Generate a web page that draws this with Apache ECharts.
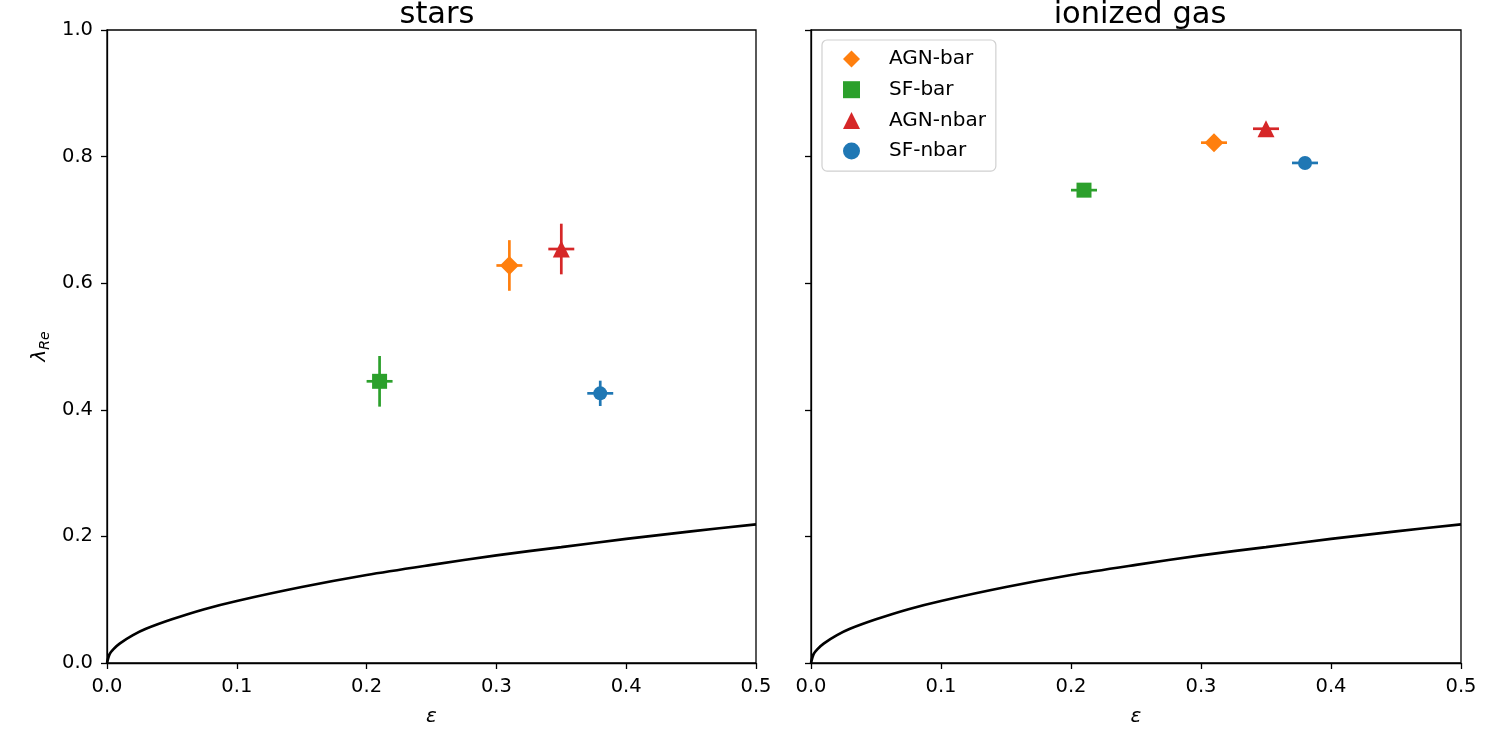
<!DOCTYPE html>
<html>
<head>
<meta charset="utf-8">
<script src="https://cdn.jsdelivr.net/npm/echarts@6/dist/echarts.min.js"></script>
<style>
  html, body { margin: 0; padding: 0; background: #fff; }
  #chart { width: 1500px; height: 750px; }
</style>
</head>
<body>
<div id="chart"></div>
<script>
// groups and their marker colours/shapes
const groups = ['AGN-bar', 'SF-bar', 'AGN-nbar', 'SF-nbar'];
const colors = ['#ff7f0e', '#2ca02c', '#d62728', '#1f77b4'];
const symbols = ['diamond', 'rect', 'triangle', 'circle'];
const symbolSizes = [19, 15, 17, 14];

// ellipticity and lambda_Re per group
const epsValues = [0.31, 0.21, 0.35, 0.38];
const epsErr = [0.01, 0.01, 0.01, 0.01];
const starLambda = [0.628, 0.445, 0.654, 0.426];
const starLambdaErr = [0.04, 0.04, 0.04, 0.02];
const gasLambda = [0.822, 0.747, 0.844, 0.790];
const gasLambdaErr = [0.003, 0.003, 0.003, 0.003];

// fast/slow rotator boundary
const curveEps = [0, 0.002, 0.005, 0.01, 0.02, 0.03, 0.05, 0.075, 0.1, 0.15, 0.2, 0.25, 0.3, 0.35, 0.4, 0.45, 0.5];
const curveLambda = [0, 0.014, 0.022, 0.031, 0.044, 0.054, 0.069, 0.085, 0.098, 0.12, 0.139, 0.155, 0.17, 0.183, 0.196, 0.208, 0.219];

const xTicks = [0, 0.1, 0.2, 0.3, 0.4, 0.5];
const yTicks = [0, 0.2, 0.4, 0.6, 0.8, 1.0];

const font = 'DejaVu Sans';
const chart = echarts.init(document.getElementById('chart'));

function xAxisFor(gridIndex) {
  return {
    gridIndex,
    type: 'value',
    min: xTicks[0],
    max: xTicks[xTicks.length - 1],
    interval: 0.1,
    name: 'ε',
    nameLocation: 'middle',
    nameGap: 44,
    nameTextStyle: { fontFamily: font, fontSize: 20, fontStyle: 'italic', color: '#000' },
    axisLine: { show: true, lineStyle: { color: '#000', width: 1.3 } },
    axisTick: { show: true, length: 6, lineStyle: { color: '#000', width: 1.3 } },
    axisLabel: { fontFamily: font, fontSize: 19.5, color: '#000', margin: 14, formatter: (v) => v.toFixed(1) },
    splitLine: { show: false }
  };
}

function yAxisFor(gridIndex, showLabels) {
  return {
    gridIndex,
    type: 'value',
    min: yTicks[0],
    max: yTicks[yTicks.length - 1],
    interval: 0.2,
    name: showLabels ? '{l|λ}{s|Re}' : '',
    nameLocation: 'middle',
    nameGap: 55,
    nameRotate: 90,
    nameTextStyle: {
      rich: {
        l: { fontFamily: font, fontSize: 20, fontStyle: 'italic', color: '#000' },
        s: { fontFamily: font, fontSize: 14, fontStyle: 'italic', color: '#000', verticalAlign: 'bottom', padding: [10, 0, 0, 0] }
      }
    },
    axisLine: { show: true, lineStyle: { color: '#000', width: 1.3 } },
    axisTick: { show: true, length: 6, lineStyle: { color: '#000', width: 1.3 } },
    axisLabel: { show: showLabels, fontFamily: font, fontSize: 19.5, color: '#000', margin: 14, formatter: (v) => v.toFixed(1) },
    splitLine: { show: false }
  };
}

function errorSeries(idx, lambdas, lambdaErrs, i) {
  return {
    type: 'custom',
    xAxisIndex: idx,
    yAxisIndex: idx,
    z: 3,
    silent: true,
    data: [[epsValues[i], lambdas[i], epsErr[i], lambdaErrs[i]]],
    renderItem: (params, api) => {
      const x = api.value(0), y = api.value(1), ex = api.value(2), ey = api.value(3);
      const l = api.coord([x - ex, y]);
      const r = api.coord([x + ex, y]);
      const t = api.coord([x, y + ey]);
      const b = api.coord([x, y - ey]);
      const style = { stroke: colors[i], lineWidth: 2.7 };
      return {
        type: 'group',
        children: [
          { type: 'line', shape: { x1: l[0], y1: l[1], x2: r[0], y2: r[1] }, style },
          { type: 'line', shape: { x1: t[0], y1: t[1], x2: b[0], y2: b[1] }, style }
        ]
      };
    }
  };
}

const series = [];
[[starLambda, starLambdaErr], [gasLambda, gasLambdaErr]].forEach(([lambdas, errs], idx) => {
  series.push({
    type: 'line',
    xAxisIndex: idx,
    yAxisIndex: idx,
    data: curveEps.map((e, k) => [e, curveLambda[k]]),
    showSymbol: false,
    smooth: 0.3,
    silent: true,
    lineStyle: { color: '#000', width: 2.7 },
    z: 2
  });
  groups.forEach((g, i) => {
    series.push(errorSeries(idx, lambdas, errs, i));
    series.push({
      name: g,
      type: 'scatter',
      xAxisIndex: idx,
      yAxisIndex: idx,
      symbol: symbols[i],
      symbolSize: symbolSizes[i],
      itemStyle: { color: colors[i], opacity: 1 },
      data: [[epsValues[i], lambdas[i]]],
      z: 4
    });
  });
});

chart.setOption({
  animation: false,
  backgroundColor: '#fff',
  title: [
    { text: 'stars', left: 432, top: -5, textAlign: 'center', textStyle: { fontFamily: font, fontSize: 30.5, fontWeight: 'normal', color: '#000' } },
    { text: 'ionized gas', left: 1135, top: -5, textAlign: 'center', textStyle: { fontFamily: font, fontSize: 30.5, fontWeight: 'normal', color: '#000' } }
  ],
  legend: {
    data: groups.map((g, i) => ({ name: g, icon: symbols[i] })),
    orient: 'vertical',
    left: 822,
    top: 40,
    padding: [9, 10, 10, 21],
    itemWidth: 17,
    itemHeight: 17,
    itemGap: 10.7,
    borderColor: '#d0d0d0',
    borderWidth: 1.2,
    borderRadius: 5,
    selectedMode: false,
    textStyle: { fontFamily: font, fontSize: 20, color: '#000', padding: [0, 0, 0, 24] }
  },
  grid: [
    { left: 107, right: 744, top: 30, bottom: 87, show: true, borderColor: '#000', borderWidth: 1.3 },
    { left: 811, right: 39, top: 30, bottom: 87, show: true, borderColor: '#000', borderWidth: 1.3 }
  ],
  xAxis: [xAxisFor(0), xAxisFor(1)],
  yAxis: [yAxisFor(0, true), yAxisFor(1, false)],
  series
});
</script>
</body>
</html>
